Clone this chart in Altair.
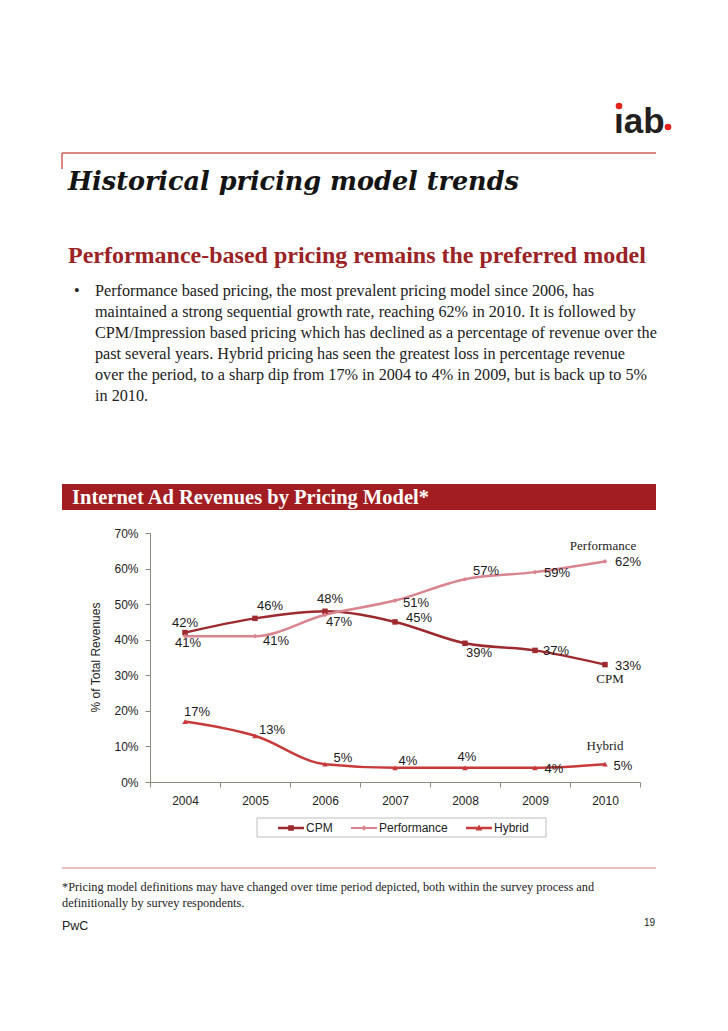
import altair as alt
import pandas as pd

# ---------------- data ----------------
YEARS = ["2004", "2005", "2006", "2007", "2008", "2009", "2010"]
SERIES = ["CPM", "Performance", "Hybrid"]
CPM = [42, 46, 48, 45, 39, 37, 33]
PERFORMANCE = [41, 41, 47, 51, 57, 59, 62]
HYBRID = [17, 13, 5, 4, 4, 4, 5]
Y_TICKS = [0, 10, 20, 30, 40, 50, 60, 70]

LOGO = "\u0131ab"
PAGE_TITLE = "Historical pricing model trends"
SUBTITLE = "Performance-based pricing remains the preferred model"
BULLET_LINES = [
    "Performance based pricing, the most prevalent pricing model since 2006, has",
    "maintained a strong sequential growth rate, reaching 62% in 2010. It is followed by",
    "CPM/Impression based pricing which has declined as a percentage of revenue over the",
    "past several years.  Hybrid pricing has seen the greatest loss in percentage revenue",
    "over the period, to a sharp dip from 17% in 2004 to 4% in 2009, but is back up to 5%",
    "in 2010.",
]
CHART_TITLE = "Internet Ad Revenues by Pricing Model*"
Y_TITLE = "% of Total Revenues"
FOOTNOTE_LINES = [
    "*Pricing model definitions may have changed over time period depicted, both within the survey process and",
    "definitionally by survey respondents.",
]
FOOTER_LEFT = "PwC"
PAGE_NUMBER = "19"

# ---------------- styling / layout ----------------
COLORS = {"CPM": "#9c2a2e", "Performance": "#d9848f", "Hybrid": "#c73a3a"}
MARKERS = {"CPM": ("square", 30), "Performance": ("diamond", 22), "Hybrid": ("triangle-up", 30)}
LEGEND_PATHS = [
    "M-1,-0.1H1V0.1H-1Z M-0.22,-0.22H0.22V0.22H-0.22Z",
    "M-1,-0.08H1V0.08H-1Z M0,-0.22L0.22,0L0,0.22L-0.22,0Z",
    "M-1,-0.1H1V0.1H-1Z M0,-0.26L0.26,0.2L-0.26,0.2Z",
]
LABEL_OFFSETS = {
    "CPM": [(0, -10), (15, -12), (5, -12), (24, -4), (14, 10), (21, 1), (23, 1.5)],
    "Performance": [(3, 7), (21, 5), (14, 7), (21, 2), (21, -8), (22, 1), (23, 1)],
    "Hybrid": [(12, -10), (17, -6), (18, -6), (13, -7), (2, -11), (19, 1), (18, 2)],
}
NAME_OFFSETS = {"Performance": (-2, -15), "CPM": (5, 14), "Hybrid": (0, -18)}

SANS = "Liberation Sans"
SERIF = "Liberation Serif"
AXIS_COLOR = "#8c8a7a"

# plot area origin on the page is (150, 533); helpers convert page pixels
OX, OY = 150, 533


def px(v):
    return v - OX


def py(v):
    return v - OY


rows = []
for s, vals in zip(SERIES, [CPM, PERFORMANCE, HYBRID]):
    for yr, v in zip(YEARS, vals):
        rows.append({"series": s, "year": yr, "value": v, "label": f"{v}%"})
df = pd.DataFrame(rows)

x_enc = alt.X(
    "year:O",
    title=None,
    scale=alt.Scale(domain=YEARS, paddingInner=0, paddingOuter=0),
    axis=alt.Axis(
        labelAngle=0, labelFont=SANS, labelFontSize=12, labelColor="#222222",
        labelPadding=8, tickSize=5, tickColor=AXIS_COLOR, domainColor=AXIS_COLOR,
        tickBand="extent", grid=False,
    ),
)
y_enc = alt.Y(
    "value:Q",
    title=Y_TITLE,
    scale=alt.Scale(domain=[0, 70], nice=False),
    axis=alt.Axis(
        values=Y_TICKS, labelExpr="datum.value + '%'", labelFont=SANS, labelFontSize=12,
        labelColor="#222222", labelPadding=7, tickSize=5, tickColor=AXIS_COLOR,
        domainColor=AXIS_COLOR, grid=False, titleFont=SANS, titleFontSize=12,
        titleFontWeight="normal", titleColor="#222222", titleX=-55, titleY=124,
        titleAngle=270, titleAlign="center", titleBaseline="middle",
    ),
)

base = alt.Chart(df)

layers = []
for s in SERIES:
    layers.append(
        base.transform_filter(alt.datum.series == s)
        .mark_line(interpolate="monotone", strokeWidth=2.5, color=COLORS[s])
        .encode(x=x_enc, y=y_enc)
    )
for s in SERIES:
    shape, size = MARKERS[s]
    layers.append(
        base.transform_filter(alt.datum.series == s)
        .mark_point(shape=shape, filled=True, size=size, opacity=1, color=COLORS[s])
        .encode(x=x_enc, y=y_enc)
    )

legend = alt.Legend(
    title=None, orient="none", legendX=128, legendY=282, direction="horizontal",
    columnPadding=18, symbolSize=676, symbolStrokeWidth=0, symbolOpacity=1,
    labelFont=SANS, labelFontSize=12, labelColor="#222222", labelOffset=2, padding=0,
)
layers.append(
    base.mark_point(filled=True, opacity=0).encode(
        x=x_enc, y=y_enc,
        color=alt.Color("series:N", scale=alt.Scale(domain=SERIES, range=[COLORS[s] for s in SERIES]),
                        legend=legend),
        shape=alt.Shape("series:N", scale=alt.Scale(domain=SERIES, range=LEGEND_PATHS), legend=legend),
    )
)

# data labels
for s in SERIES:
    for j, yr in enumerate(YEARS):
        dx, dy = LABEL_OFFSETS[s][j]
        layers.append(
            base.transform_filter((alt.datum.series == s) & (alt.datum.year == yr))
            .mark_text(dx=dx, dy=dy, font=SANS, fontSize=13, color="#1a1a1a",
                       align="center", baseline="middle")
            .encode(x=x_enc, y=y_enc, text="label:N")
        )
# series names next to last point
for s in SERIES:
    dx, dy = NAME_OFFSETS[s]
    layers.append(
        base.transform_filter((alt.datum.series == s) & (alt.datum.year == YEARS[-1]))
        .mark_text(dx=dx, dy=dy, font=SERIF, fontSize=13, color="#222222",
                   align="center", baseline="middle")
        .encode(x=x_enc, y=y_enc, text="series:N")
    )


def one(text=""):
    return alt.Chart(pd.DataFrame({"t": [text]}))


def text_layer(text, x, y, **kw):
    return one(text).mark_text(**kw).encode(text="t:N", x=alt.value(px(x)), y=alt.value(py(y)))


def hrule(x1, x2, y, color, width):
    return one().mark_rule(color=color, strokeWidth=width).encode(
        x=alt.value(px(x1)), x2=alt.value(px(x2)), y=alt.value(py(y)))


def vrule(x, y1, y2, color, width):
    return one().mark_rule(color=color, strokeWidth=width).encode(
        x=alt.value(px(x)), y=alt.value(py(y1)), y2=alt.value(py(y2)))


page = []
# logo
page.append(text_layer(LOGO, 614, 133, font=SANS, fontSize=35, fontWeight="bold",
                       color="#231f20", align="left", baseline="alphabetic"))
page.append(one().mark_circle(size=44, color="#e2231a", opacity=1).encode(
    x=alt.value(px(619)), y=alt.value(py(106))))
page.append(one().mark_circle(size=44, color="#e2231a", opacity=1).encode(
    x=alt.value(px(668)), y=alt.value(py(127))))
# header rule
page.append(hrule(62, 656, 153, "#cf5f59", 1.5))
page.append(vrule(62, 153, 169, "#cf5f59", 1.5))
# titles
page.append(text_layer(PAGE_TITLE, 68, 190, font="DejaVu Serif", fontSize=25.5, fontWeight="bold",
                       fontStyle="italic", color="#141414", align="left", baseline="alphabetic"))
page.append(text_layer(SUBTITLE, 68, 263, font=SERIF, fontSize=24, fontWeight="bold",
                       color="#9b2326", align="left", baseline="alphabetic"))
page.append(text_layer("\u2022", 74, 296, font=SERIF, fontSize=16, color="#222222",
                       align="left", baseline="alphabetic"))
page.append(text_layer("\n".join(BULLET_LINES), 95, 296, font=SERIF, fontSize=16.2,
                       color="#222222", align="left", baseline="alphabetic",
                       lineBreak="\n", lineHeight=21))
# chart title bar
page.append(one().mark_rect(color="#a11d21", opacity=1).encode(
    x=alt.value(px(62)), x2=alt.value(px(656)), y=alt.value(py(484)), y2=alt.value(py(510))))
page.append(text_layer(CHART_TITLE, 72, 503.5, font=SERIF, fontSize=20.5, fontWeight="bold",
                       color="#ffffff", align="left", baseline="alphabetic"))
# legend box
page.append(one().mark_rect(fillOpacity=0, stroke="#bdbdbd", strokeWidth=1).encode(
    x=alt.value(px(257)), x2=alt.value(px(546)), y=alt.value(py(818)), y2=alt.value(py(837))))
# footer
page.append(hrule(62, 656, 868, "#e6aaaa", 1.5))
page.append(text_layer("\n".join(FOOTNOTE_LINES), 62, 891, font=SERIF, fontSize=12.3,
                       color="#222222", align="left", baseline="alphabetic",
                       lineBreak="\n", lineHeight=16))
page.append(text_layer(FOOTER_LEFT, 62, 930, font=SANS, fontSize=12.5, color="#222222",
                       align="left", baseline="alphabetic"))
page.append(text_layer(PAGE_NUMBER, 655, 926, font=SANS, fontSize=10, color="#222222",
                       align="right", baseline="alphabetic"))

chart = (
    alt.layer(*page, *layers)
    .properties(
        width=490, height=249,
        padding={"left": OX - 8, "top": OY - 8, "right": 72, "bottom": 230},
        autosize=alt.AutoSizeParams(type="none"),
        background="#ffffff",
    )
    .configure_view(stroke=None)
)

chart.save("out.html", embed_options={"renderer": "svg", "actions": False})
